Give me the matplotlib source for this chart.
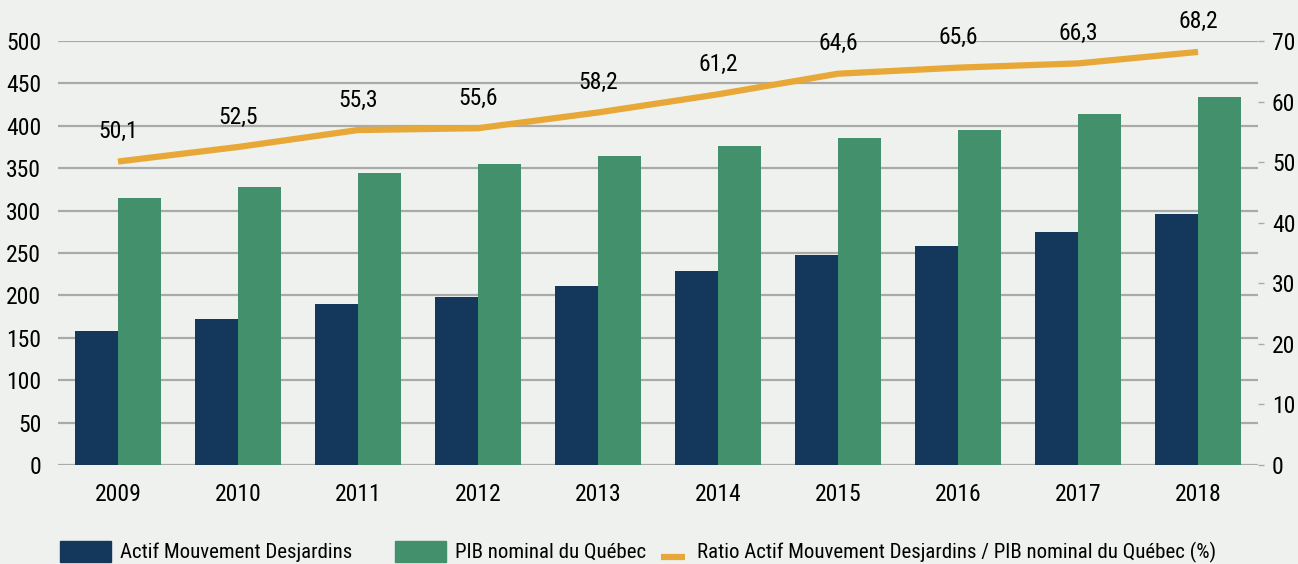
import matplotlib
matplotlib.use("Agg")
import matplotlib.pyplot as plt
from matplotlib.patches import Rectangle
from matplotlib.lines import Line2D
from matplotlib import font_manager
from matplotlib.font_manager import FontProperties
import numpy as np
import os

years = ["2009", "2010", "2011", "2012", "2013", "2014", "2015", "2016", "2017", "2018"]
actif = [158, 172, 190, 198, 211, 229, 248, 258, 275, 296]
pib = [315, 328, 344, 355, 364, 376, 386, 395, 414, 434]
ratio = [50.1, 52.5, 55.3, 55.6, 58.2, 61.2, 64.6, 65.6, 66.3, 68.2]
ratio_labels = ["50,1", "52,5", "55,3", "55,6", "58,2", "61,2", "64,6", "65,6", "66,3", "68,2"]
left_ticks = list(range(0, 501, 50))
right_ticks = list(range(0, 71, 10))

# find a condensed font file
files = set(font_manager.findSystemFonts()) | {f.fname for f in font_manager.fontManager.ttflist}
prefs = ["LiberationSansNarrow-Regular", "RobotoCondensed-Regular", "OpenSans_Condensed-Regular",
         "OpenSansCondensed-Regular", "OpenSans-CondensedRegular", "DejaVuSansCondensed.ttf"]
FONTFILE = None
for p in prefs:
    for f in sorted(files):
        if p.lower() in os.path.basename(f).lower():
            FONTFILE = f
            break
    if FONTFILE:
        break
if FONTFILE is None:
    for f in sorted(files):
        b = os.path.basename(f).lower()
        if ("condensed" in b or "narrow" in b) and "bold" not in b and "italic" not in b and "oblique" not in b:
            FONTFILE = f
            break

SIZE = 17 if FONTFILE else 14
LSIZE = 15 if FONTFILE else 12


def fp(size=SIZE):
    if FONTFILE:
        return FontProperties(fname=FONTFILE, size=size)
    return FontProperties(family="DejaVu Sans", size=size)


BG = "#eff1ee"
NAVY = "#14375c"
GREEN = "#42906c"
ORANGE = "#e8a838"
GRID = "#a9aaa9"

W, H = 1298, 564
fig = plt.figure(figsize=(W / 100, H / 100), dpi=100, facecolor=BG)
ax = fig.add_axes([58 / W, (H - 465) / H, (1258 - 58) / W, (465 - 41) / H])
ax.set_facecolor(BG)

x = np.arange(len(years))
bw = 0.36
ax.bar(x - bw / 2, actif, bw, color=NAVY, zorder=3)
ax.bar(x + bw / 2, pib, bw, color=GREEN, zorder=3)

ax.set_xlim(-0.5, 9.5)
ax.set_ylim(0, 500)
ax.set_yticks(left_ticks)
ax.set_yticklabels([str(v) for v in left_ticks], fontproperties=fp())
ax.set_xticks(x)
ax.set_xticklabels(years, fontproperties=fp())
ax.tick_params(axis="y", length=0, pad=12)
ax.tick_params(axis="x", length=0, pad=13)
ax.grid(axis="y", color=GRID, linewidth=1.6, zorder=1)
for s in ax.spines.values():
    s.set_visible(False)

ax2 = ax.twinx()
ax2.set_ylim(0, 70)
ax2.set_yticks(right_ticks)
ax2.set_yticklabels([str(v) for v in right_ticks], fontproperties=fp())
ax2.tick_params(axis="y", length=4, color=GRID, width=1, pad=6)
for s in ax2.spines.values():
    s.set_visible(False)
ax2.plot(x, ratio, color=ORANGE, linewidth=4.5, solid_capstyle="butt", zorder=4)
for xi, v, lab in zip(x, ratio, ratio_labels):
    ax2.annotate(lab, (xi, v), xytext=(0, 30), textcoords="offset pixels",
                 ha="center", va="center", fontproperties=fp(), annotation_clip=False)


def fy(py):
    return (H - py) / H


fig.patches.append(Rectangle((60 / W, fy(562)), 51 / W, 21 / H, transform=fig.transFigure,
                             color=NAVY, figure=fig))
fig.text(120 / W, fy(552), "Actif Mouvement Desjardins", fontproperties=fp(LSIZE), va="center")
fig.patches.append(Rectangle((395 / W, fy(562)), 51 / W, 21 / H, transform=fig.transFigure,
                             color=GREEN, figure=fig))
fig.text(455 / W, fy(552), "PIB nominal du Québec", fontproperties=fp(LSIZE), va="center")
fig.lines.append(Line2D([661 / W, 685 / W], [fy(557), fy(557)], transform=fig.transFigure,
                        color=ORANGE, linewidth=4.5, solid_capstyle="butt", figure=fig))
fig.text(697 / W, fy(552), "Ratio Actif Mouvement Desjardins / PIB nominal du Québec (%)",
         fontproperties=fp(LSIZE), va="center")

fig.savefig("out.png", dpi=100, facecolor=BG)
